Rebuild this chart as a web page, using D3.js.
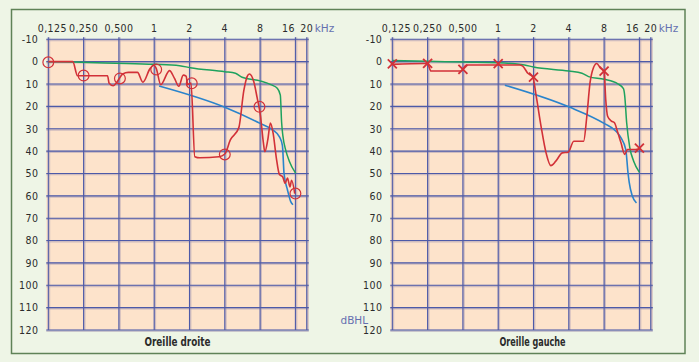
<!DOCTYPE html>
<html><head><meta charset="utf-8">
<script src="https://cdn.jsdelivr.net/npm/d3@7"></script>
<style>body{margin:0;background:#eef5e6;} svg{display:block}</style>
</head><body><svg id="c" width="699" height="362"></svg>
<script>
// ---- data ----
const freqTicks = [0.125, 0.25, 0.5, 1, 2, 4, 8, 16, 20];
const freqLabels = ["0,125", "0,250", "0,500", "1", "2", "4", "8", "16", "20"];
const dbTicks = [-10, 0, 10, 20, 30, 40, 50, 60, 70, 80, 90, 100, 110, 120];

// Oreille droite (right ear)
const droiteSeuil = [[0.125,0],[0.202,0],[0.222,6.3],[0.40,6.3],[0.413,9.7],[0.447,10.8],[0.477,9.4],[0.539,5.5],[0.601,4.8],[0.72,4.8],[0.80,9.2],[0.924,3],[0.993,1.6],[1.04,3],[1.137,10.3],[1.35,4],[1.49,7.5],[1.62,11],[1.77,6],[1.87,6.5],[1.93,10.2],[2.06,9.6],[2.22,42.5],[2.45,43],[3.57,42.5],[4.0,41.3],[4.46,35],[5.27,29.5],[5.81,13],[6.2,6.7],[6.48,5.5],[7.07,9],[7.54,16],[8.05,24],[8.52,36],[8.78,40.3],[9.3,35],[9.8,27.5],[10.33,32],[11.0,43],[11.7,50.5],[12.46,51.5],[13.1,54.4],[13.7,52],[14.38,56],[14.85,53],[15.8,59]];
const droiteMarks = [[0.125,0.3],[0.25,6.2],[0.51,7.5],[1.04,3.5],[2.09,9.7],[4,41.5],[7.9,20.2],[16,59]];
const droiteVert = [[0.125,0],[0.202,0.2],[0.472,0.7],[0.993,1.2],[1.65,1.8],[2.03,2.7],[4,4.5],[4.93,5.2],[5.62,7],[8,8.6],[10,10.4],[11.2,11.9],[11.9,15],[12.2,27],[12.5,33],[13.3,40],[14.2,44.5],[16.1,50]];
const droiteBleu = [[1.1,10.9],[4,20.4],[8,27.6],[10.3,30.6],[11.7,33.6],[12.4,37.5],[12.8,50],[13.7,57.4],[14.6,62.6],[15.25,64]];

// Oreille gauche (left ear)
const gaucheSeuil = [[0.125,1.2],[0.235,0.8],[0.25,1],[0.267,4.2],[0.48,4.2],[0.5,3.4],[0.533,1.5],[1.52,1.5],[1.62,2],[1.79,5.2],[1.97,6.8],[2.11,15.4],[2.32,28.9],[2.56,40.8],[2.81,46.5],[3.1,44.5],[3.52,40.8],[3.95,40.5],[4.41,35.6],[5.35,35.6],[5.7,24.4],[6.07,9.4],[6.49,2.7],[6.92,0.8],[7.4,2.7],[8.0,4.6],[8.26,16.9],[8.57,24.4],[9.24,26.6],[9.8,27.3],[10.48,31.8],[11.15,36.3],[12.0,41.5],[12.63,39.3],[14.77,39.3],[16,39]];
const gaucheMarks = [[0.125,1],[0.25,0.8],[0.5,3.4],[1,0.9],[2,6.9],[8,4.2],[16,38.7]];
const gaucheVert = [[0.125,-0.5],[0.25,-0.2],[0.5,0.2],[1,0.5],[1.68,1.5],[2,2.4],[4,4.2],[5.18,5.2],[5.9,6.7],[8,7.9],[10.48,9.9],[11.7,12.1],[12.0,15.4],[12.46,27.3],[13.26,38.5],[14.3,44.5],[16,49.5]];
const gaucheBleu = [[1.14,10.5],[4,20.2],[8,27.6],[10.1,31.1],[11.15,34.1],[12.25,39.3],[12.8,49.8],[13.1,54],[13.9,60],[15.1,63.2]];

// ---- drawing ----
const svg = d3.select("#c");
svg.append("rect").attr("width", 699).attr("height", 362).attr("fill", "#eef5e6");
svg.append("rect").attr("x", 11.5).attr("y", 9.5).attr("width", 673.5).attr("height", 344)
  .attr("fill", "none").attr("stroke", "#5f8257").attr("stroke-width", 1.5);

const tickFont = "'DejaVu Sans Condensed', 'DejaVu Sans', sans-serif";
const RED = "#d23138", GREEN = "#1ea25e", BLUE = "#2a84cc", GRID = "#4d5aa8";

const y = d3.scaleLinear().domain([-10, 120]).range([39.3, 330]);

function panel(x0, title, titleX, seuil, marks, markType, vert, bleu) {
  const x = d3.scaleLog().base(2).domain([0.125, 20]).range([x0, x0 + 35.3 * Math.log2(20 / 0.125)]);
  const g = svg.append("g");
  const xL = x(0.125) - 2, xR = x(20) + 2;
  g.append("rect").attr("x", xL).attr("y", y(-10)).attr("width", xR - xL).attr("height", y(120) - y(-10)).attr("fill", "#fde3cb");

  // grid shadow
  g.selectAll(".hs").data(dbTicks).join("line")
    .attr("x1", xL).attr("x2", xR).attr("y1", d => y(d) + 0.8).attr("y2", d => y(d) + 0.8)
    .attr("stroke", "#a99cb4").attr("stroke-opacity", 0.55).attr("stroke-width", 2.2);
  g.selectAll(".vs").data(freqTicks).join("line")
    .attr("x1", d => x(d) + 0.8).attr("x2", d => x(d) + 0.8).attr("y1", y(-10) - 2).attr("y2", y(120))
    .attr("stroke", "#a99cb4").attr("stroke-opacity", 0.55).attr("stroke-width", 2.2);
  // grid
  g.selectAll(".h").data(dbTicks).join("line")
    .attr("x1", xL).attr("x2", xR).attr("y1", d => y(d)).attr("y2", d => y(d))
    .attr("stroke", GRID).attr("stroke-width", 1.1);
  g.selectAll(".v").data(freqTicks).join("line")
    .attr("x1", d => x(d)).attr("x2", d => x(d)).attr("y1", y(-10) - 2).attr("y2", y(120))
    .attr("stroke", GRID).attr("stroke-width", 1.1);

  // tick labels
  g.selectAll(".xl").data(freqTicks).join("text")
    .attr("x", (d, i) => x(d) + (i === 0 ? 4 : (freqLabels[i] === "16" ? -7 : 0)))
    .attr("y", 32).attr("text-anchor", "middle")
    .attr("font-family", tickFont).attr("font-size", 10.5).attr("fill", "#2b2b2b").attr("letter-spacing", 0.4)
    .text((d, i) => freqLabels[i]);
  g.append("text").attr("x", x(20) + 8).attr("y", 32)
    .attr("font-family", "'DejaVu Sans', sans-serif").attr("font-size", 10.5).attr("fill", "#6570b0").text("kHz");
  g.selectAll(".yl").data(dbTicks).join("text")
    .attr("x", x0 - 10).attr("y", d => y(d)).attr("dy", "0.36em").attr("text-anchor", "end")
    .attr("font-family", tickFont).attr("font-size", 10.5).attr("fill", "#2b2b2b").attr("letter-spacing", 0.4)
    .text(d => d);

  const line = d3.line().x(d => x(d[0])).y(d => y(d[1])).curve(d3.curveMonotoneX);
  g.append("path").attr("d", line(vert)).attr("fill", "none").attr("stroke", GREEN).attr("stroke-width", 1.5);
  g.append("path").attr("d", line(bleu)).attr("fill", "none").attr("stroke", BLUE).attr("stroke-width", 1.6);
  g.append("path").attr("d", line(seuil)).attr("fill", "none").attr("stroke", RED).attr("stroke-width", 1.6);

  if (markType === "o") {
    g.selectAll(".m").data(marks).join("circle")
      .attr("cx", d => x(d[0])).attr("cy", d => y(d[1])).attr("r", 5.4)
      .attr("fill", "none").attr("stroke", RED).attr("stroke-width", 1.2);
  } else {
    const s = 4.5;
    const mg = g.selectAll(".m").data(marks).join("g").attr("transform", d => `translate(${x(d[0])},${y(d[1])})`);
    mg.append("line").attr("x1", -s).attr("y1", -s).attr("x2", s).attr("y2", s).attr("stroke", RED).attr("stroke-width", 1.8);
    mg.append("line").attr("x1", -s).attr("y1", s).attr("x2", s).attr("y2", -s).attr("stroke", RED).attr("stroke-width", 1.8);
  }

  g.append("text").attr("x", titleX).attr("y", 346).attr("text-anchor", "middle")
    .attr("font-family", "'DejaVu Sans Condensed', 'DejaVu Sans', sans-serif")
    .attr("font-weight", "bold").attr("font-size", 12).attr("fill", "#2b2b2b")
    .attr("textLength", 66).attr("lengthAdjust", "spacingAndGlyphs").text(title);
}

panel(48.3, "Oreille droite", 177.5, droiteSeuil, droiteMarks, "o", droiteVert, droiteBleu);
panel(392.3, "Oreille gauche", 532.5, gaucheSeuil, gaucheMarks, "x", gaucheVert, gaucheBleu);

svg.append("text").attr("x", 340.5).attr("y", 323.5)
  .attr("font-family", "'DejaVu Sans', sans-serif").attr("font-size", 10.5).attr("fill", "#6570b0").text("dBHL");
</script>
</body></html>
